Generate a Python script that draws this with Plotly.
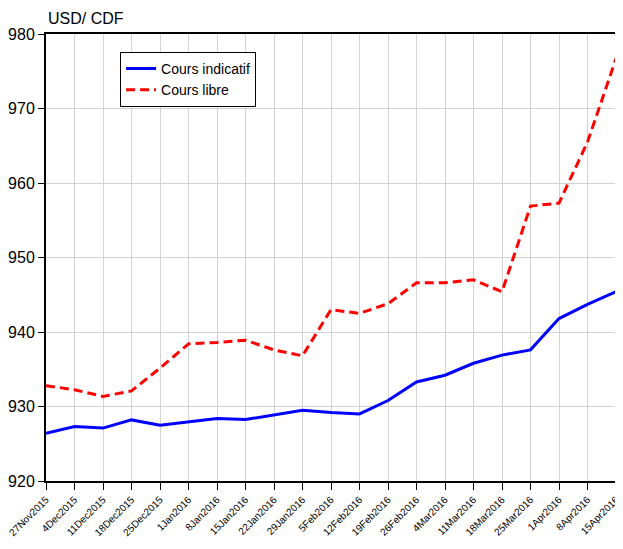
import plotly.graph_objects as go

dates = ["27Nov2015", "4Dec2015", "11Dec2015", "18Dec2015", "25Dec2015",
         "1Jan2016", "8Jan2016", "15Jan2016", "22Jan2016", "29Jan2016",
         "5Feb2016", "12Feb2016", "19Feb2016", "26Feb2016", "4Mar2016",
         "11Mar2016", "18Mar2016", "25Mar2016", "1Apr2016", "8Apr2016",
         "15Apr2016"]

cours_indicatif = [926.4, 927.3, 927.1, 928.2, 927.5, 928.0, 928.4, 928.25,
                   928.9, 929.5, 929.2, 929.0, 930.8, 933.3, 934.2, 935.8,
                   936.9, 937.6, 941.8, 943.7, 945.4]

cours_libre = [932.8, 932.25, 931.35, 932.1, 935.15, 938.4, 938.6, 938.9,
               937.6, 936.8, 943.0, 942.5, 943.8, 946.6, 946.6, 947.0,
               945.4, 956.9, 957.3, 965.5, 976.7]

narrow = "Liberation Sans Narrow, Arial Narrow, Liberation Sans, Arial"

fig = go.Figure()
fig.add_trace(go.Scatter(x=dates, y=cours_indicatif, mode="lines",
                         name="Cours indicatif",
                         line=dict(color="#0000ff", width=3)))
fig.add_trace(go.Scatter(x=dates, y=cours_libre, mode="lines",
                         name="Cours libre",
                         line=dict(color="#ff0000", width=3, dash="9px,5px")))

# page body has an 8px margin, so the figure is sized to fit inside it
fig.update_layout(
    width=615, height=541,
    margin=dict(l=38, r=7, t=26, b=68),
    paper_bgcolor="white", plot_bgcolor="white",
    font=dict(family=narrow, color="black"),
    showlegend=True,
    legend=dict(x=0.13, y=0.96, xanchor="left", yanchor="top",
                bordercolor="black", borderwidth=1, bgcolor="white",
                font=dict(size=14, family=narrow), tracegroupgap=0,
                itemwidth=30),
    annotations=[dict(text="USD/ CDF", xref="paper", yref="paper",
                      x=0.0, y=1.0, yshift=5, xanchor="left", yanchor="bottom",
                      showarrow=False, font=dict(size=16, family=narrow))],
)

fig.update_xaxes(
    type="category", range=[0, len(dates) - 1], automargin=False,
    showgrid=True, gridcolor="#d3d3d3", gridwidth=1,
    showline=True, linecolor="black", linewidth=2, mirror=True,
    ticks="outside", ticklen=7, tickcolor="black", tickwidth=1,
    tickangle=-45, tickfont=dict(size=10, family=narrow),
)
fig.update_yaxes(
    range=[920, 980], dtick=10, automargin=False,
    showgrid=True, gridcolor="#d3d3d3", gridwidth=1,
    showline=True, linecolor="black", linewidth=2, mirror=True,
    ticks="outside", ticklen=6, tickcolor="black", tickwidth=1,
    tickfont=dict(size=16, family=narrow), zeroline=False,
)

fig.write_html("out.html")
